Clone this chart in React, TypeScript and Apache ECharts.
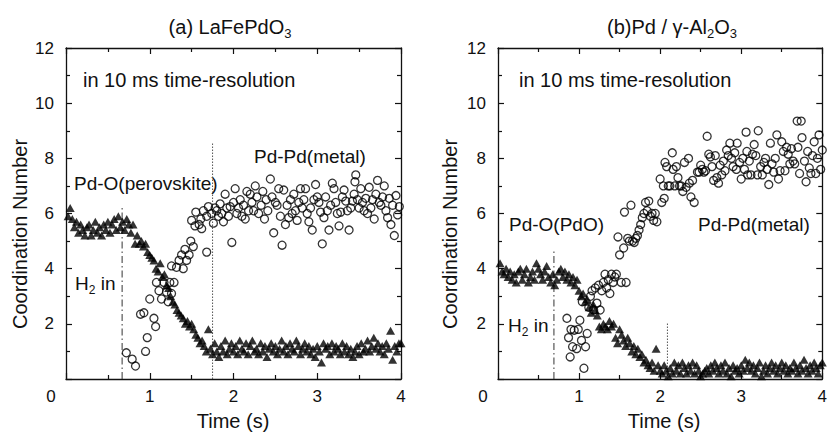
import React, { useEffect, useRef } from "react";
import * as echarts from "echarts";

// ---------- data ----------
const xTicks = [0, 1, 2, 3, 4];
const yTicks = [0, 2, 4, 6, 8, 10, 12];

// (a) LaFePdO3 : Pd-O (triangles) [t, CN]
const pdoA: number[][] = [
  [0.025, 5.9], [0.05, 6.2], [0.075, 5.8], [0.1, 5.5], [0.125, 5.7], [0.15, 5.3], [0.175, 5.6], [0.2, 5.4],
  [0.225, 5.2], [0.25, 5.5], [0.275, 5.6], [0.3, 5.2], [0.325, 5.4], [0.35, 5.7], [0.375, 5.3], [0.4, 5.5],
  [0.425, 5.2], [0.45, 5.6], [0.475, 5.4], [0.5, 5.7], [0.525, 5.3], [0.55, 5.6], [0.575, 5.8], [0.6, 5.4],
  [0.625, 5.9], [0.65, 5.5], [0.675, 5.7], [0.7, 5.4], [0.725, 5.8], [0.75, 5.6], [0.775, 5.3], [0.8, 5.6],
  [0.825, 4.9], [0.85, 5.2], [0.875, 4.9], [0.9, 5.0], [0.925, 4.8], [0.95, 4.9], [0.975, 4.6], [1.0, 4.5],
  [1.025, 4.4], [1.05, 4.3], [1.075, 4.0], [1.1, 3.9], [1.125, 4.2], [1.15, 3.7], [1.175, 3.8], [1.2, 3.4],
  [1.225, 3.3], [1.25, 3.0], [1.275, 2.8], [1.3, 2.7], [1.325, 2.5], [1.35, 2.4], [1.375, 2.3], [1.4, 2.2],
  [1.425, 2.0], [1.45, 2.1], [1.475, 1.9], [1.5, 2.0], [1.525, 1.8], [1.55, 1.6], [1.575, 1.5], [1.6, 1.3],
  [1.625, 1.4], [1.65, 1.2], [1.675, 1.0], [1.7, 1.8], [1.725, 1.1], [1.75, 0.9], [1.775, 1.3], [1.8, 1.0],
  [1.825, 0.8], [1.85, 1.2], [1.875, 1.0], [1.9, 1.4], [1.925, 0.9], [1.95, 1.1], [1.975, 1.3], [2.0, 1.0],
  [2.025, 1.2], [2.05, 0.9], [2.075, 1.4], [2.1, 1.1], [2.125, 1.0], [2.15, 1.3], [2.175, 0.9], [2.2, 1.2],
  [2.225, 1.4], [2.25, 1.0], [2.275, 1.1], [2.3, 0.9], [2.325, 1.3], [2.35, 1.0], [2.375, 1.2], [2.4, 0.8],
  [2.425, 1.1], [2.45, 1.3], [2.475, 1.0], [2.5, 1.2], [2.525, 0.9], [2.55, 1.1], [2.575, 1.4], [2.6, 1.0],
  [2.625, 1.2], [2.65, 0.9], [2.675, 1.3], [2.7, 1.1], [2.725, 1.0], [2.75, 1.4], [2.775, 1.2], [2.8, 0.9],
  [2.825, 1.1], [2.85, 1.3], [2.875, 1.0], [2.9, 1.2], [2.925, 0.9], [2.95, 1.1], [2.975, 0.8], [3.0, 1.2],
  [3.025, 1.0], [3.05, 0.6], [3.075, 1.3], [3.1, 1.1], [3.125, 1.2], [3.15, 0.9], [3.175, 1.3], [3.2, 1.0],
  [3.225, 1.2], [3.25, 1.1], [3.275, 0.9], [3.3, 1.3], [3.325, 1.0], [3.35, 1.2], [3.375, 0.9], [3.4, 1.1],
  [3.425, 0.8], [3.45, 1.0], [3.475, 1.2], [3.5, 0.9], [3.525, 1.3], [3.55, 1.0], [3.575, 1.1], [3.6, 1.4],
  [3.625, 1.0], [3.65, 1.2], [3.675, 1.5], [3.7, 1.1], [3.725, 1.3], [3.75, 1.0], [3.775, 1.2], [3.8, 0.9],
  [3.825, 1.3], [3.85, 1.1], [3.875, 1.75], [3.9, 0.7], [3.925, 1.2], [3.95, 1.0], [3.975, 1.3], [4.0, 1.3],
];

// (a) LaFePdO3 : Pd-Pd (circles)
const pdpdA: number[][] = [
  [0.72, 0.95], [0.79, 0.72], [0.83, 0.47], [0.89, 2.35], [0.93, 2.4], [0.95, 1.0], [0.97, 1.5], [1.0, 2.9],
  [1.05, 2.2], [1.07, 1.9], [1.08, 3.5], [1.11, 3.2], [1.14, 2.9], [1.17, 3.5], [1.2, 3.15], [1.22, 2.8],
  [1.24, 3.5], [1.26, 3.1], [1.26, 4.1], [1.29, 3.5], [1.32, 4.05], [1.35, 4.3], [1.38, 4.5], [1.4, 4.0],
  [1.42, 4.7], [1.44, 4.3], [1.47, 4.5], [1.49, 5.0], [1.5, 5.75], [1.52, 4.8], [1.54, 5.55], [1.55, 6.05],
  [1.59, 5.6], [1.61, 5.8], [1.62, 5.45], [1.64, 6.1], [1.68, 4.6], [1.68, 5.9], [1.7, 6.25], [1.74, 6.0],
  [1.76, 5.65], [1.78, 6.2], [1.8, 6.1], [1.82, 5.9], [1.84, 6.35], [1.86, 6.0], [1.88, 5.7], [1.9, 6.7],
  [1.92, 6.2], [1.94, 5.9], [1.96, 6.25], [1.98, 4.95], [2.0, 6.4], [2.02, 6.9], [2.04, 6.0], [2.06, 6.2],
  [2.08, 6.5], [2.1, 5.9], [2.12, 6.3], [2.14, 5.8], [2.16, 6.8], [2.18, 6.1], [2.2, 6.7], [2.22, 6.4],
  [2.24, 6.1], [2.26, 7.0], [2.28, 6.6], [2.3, 6.0], [2.33, 6.3], [2.35, 6.8], [2.37, 5.8], [2.39, 6.5],
  [2.41, 6.1], [2.44, 7.25], [2.46, 6.6], [2.48, 5.3], [2.5, 6.4], [2.52, 6.3], [2.54, 6.9], [2.56, 5.9],
  [2.58, 4.85], [2.6, 6.85], [2.62, 5.6], [2.64, 6.3], [2.66, 5.85], [2.68, 6.5], [2.7, 6.0], [2.72, 6.7],
  [2.74, 6.1], [2.76, 5.75], [2.78, 6.4], [2.8, 6.9], [2.82, 6.2], [2.84, 6.5], [2.86, 6.9], [2.88, 6.0],
  [2.9, 5.7], [2.92, 6.2], [2.94, 5.4], [2.96, 6.5], [2.98, 7.05], [3.0, 6.6], [3.02, 6.4], [3.04, 6.05],
  [3.06, 4.9], [3.08, 5.85], [3.1, 6.6], [3.12, 6.1], [3.14, 5.4], [3.16, 6.3], [3.18, 7.1], [3.2, 6.9],
  [3.22, 6.4], [3.24, 6.0], [3.26, 5.55], [3.28, 6.05], [3.3, 6.6], [3.32, 6.85], [3.34, 6.45], [3.36, 6.1],
  [3.38, 5.4], [3.4, 6.2], [3.42, 6.45], [3.44, 6.7], [3.45, 7.15], [3.46, 7.4], [3.48, 6.5], [3.5, 6.2],
  [3.52, 6.9], [3.54, 6.4], [3.56, 6.1], [3.58, 6.55], [3.6, 6.0], [3.62, 6.95], [3.64, 6.2], [3.66, 6.5],
  [3.68, 5.8], [3.7, 6.7], [3.72, 7.2], [3.74, 6.4], [3.76, 6.3], [3.78, 6.6], [3.8, 7.0], [3.82, 6.1],
  [3.84, 5.85], [3.86, 6.55], [3.88, 5.6], [3.9, 6.3], [3.92, 5.2], [3.94, 6.65], [3.96, 5.95], [3.98, 6.25],
];

// (b) Pd/γ-Al2O3 : Pd-O (triangles)
const pdoB: number[][] = [
  [0.025, 4.2], [0.05, 3.9], [0.075, 3.8], [0.1, 4.0], [0.125, 3.7], [0.15, 3.9], [0.175, 3.6], [0.2, 3.8],
  [0.225, 3.5], [0.25, 3.9], [0.275, 4.0], [0.3, 3.6], [0.325, 3.8], [0.35, 4.0], [0.375, 3.5], [0.4, 3.7],
  [0.425, 3.9], [0.45, 3.6], [0.475, 4.2], [0.5, 4.0], [0.525, 3.8], [0.55, 3.6], [0.575, 3.9], [0.6, 4.1],
  [0.625, 3.7], [0.65, 3.5], [0.675, 3.8], [0.7, 3.4], [0.725, 3.6], [0.75, 3.9], [0.775, 4.0], [0.8, 3.7],
  [0.825, 3.9], [0.85, 3.6], [0.875, 3.8], [0.9, 3.5], [0.925, 3.7], [0.95, 3.4], [0.975, 3.6], [1.0, 3.2],
  [1.025, 3.0], [1.05, 3.1], [1.075, 2.8], [1.1, 2.9], [1.125, 2.6], [1.15, 2.4], [1.175, 2.7], [1.2, 2.5],
  [1.225, 2.3], [1.25, 1.9], [1.275, 1.8], [1.3, 2.0], [1.325, 1.9], [1.35, 1.8], [1.375, 2.1], [1.4, 1.9],
  [1.425, 2.0], [1.45, 1.5], [1.475, 1.3], [1.5, 1.8], [1.525, 1.6], [1.55, 1.4], [1.575, 1.2], [1.6, 1.5],
  [1.625, 1.3], [1.65, 1.0], [1.675, 1.2], [1.7, 0.9], [1.725, 1.1], [1.75, 0.8], [1.775, 0.9], [1.8, 0.6],
  [1.825, 0.7], [1.85, 0.5], [1.875, 0.4], [1.9, 0.6], [1.925, 0.3], [1.95, 1.1], [1.975, 0.5], [2.0, 0.3],
  [2.025, 0.2], [2.05, 0.5], [2.075, 0.3], [2.1, 0.1], [2.125, 0.4], [2.15, 0.2], [2.175, 0.6], [2.2, 0.3],
  [2.225, 0.5], [2.25, 0.2], [2.275, 0.6], [2.3, 0.4], [2.325, 0.2], [2.35, 0.5], [2.375, 0.3], [2.4, 0.6],
  [2.425, 0.2], [2.45, 0.5], [2.475, 0.3], [2.5, 0.1], [2.525, 0.2], [2.55, 0.3], [2.575, 0.4], [2.6, 0.2],
  [2.625, 0.5], [2.65, 0.3], [2.675, 0.6], [2.7, 0.4], [2.725, 0.2], [2.75, 0.5], [2.775, 0.3], [2.8, 0.6],
  [2.825, 0.2], [2.85, 0.4], [2.875, 0.1], [2.9, 0.5], [2.925, 0.3], [2.95, 0.4], [2.975, 0.2], [3.0, 0.5],
  [3.025, 0.3], [3.05, 0.7], [3.075, 0.4], [3.1, 0.6], [3.125, 0.3], [3.15, 0.5], [3.175, 0.2], [3.2, 0.4],
  [3.225, 0.6], [3.25, 0.1], [3.275, 0.3], [3.3, 0.5], [3.325, 0.2], [3.35, 0.4], [3.375, 0.6], [3.4, 0.3],
  [3.425, 0.5], [3.45, 0.2], [3.475, 0.4], [3.5, 0.6], [3.525, 0.3], [3.55, 0.5], [3.575, 0.2], [3.6, 0.4],
  [3.625, 0.3], [3.65, 0.6], [3.675, 0.4], [3.7, 0.2], [3.725, 0.5], [3.75, 0.3], [3.775, 0.7], [3.8, 0.4],
  [3.825, 0.2], [3.85, 0.5], [3.875, 0.3], [3.9, 0.6], [3.925, 0.4], [3.95, 0.2], [3.975, 0.5], [4.0, 0.6],
];

// (b) Pd/γ-Al2O3 : Pd-Pd (circles)
const pdpdB: number[][] = [
  [0.85, 2.2], [0.87, 1.5], [0.89, 0.8], [0.9, 1.8], [0.92, 1.17], [0.94, 1.77], [0.97, 1.1], [0.99, 1.8],
  [1.01, 2.13], [1.03, 1.4], [1.04, 2.8], [1.06, 0.39], [1.08, 1.17], [1.1, 1.65], [1.12, 2.6], [1.14, 3.0],
  [1.16, 3.2], [1.18, 2.5], [1.2, 3.3], [1.22, 2.75], [1.24, 3.4], [1.26, 2.5], [1.28, 3.2], [1.3, 3.5],
  [1.32, 3.8], [1.34, 3.3], [1.36, 3.6], [1.38, 3.1], [1.4, 3.8], [1.42, 3.5], [1.44, 3.7], [1.46, 3.8],
  [1.48, 5.15], [1.5, 4.5], [1.52, 3.5], [1.55, 4.75], [1.56, 6.05], [1.58, 3.5], [1.6, 5.1], [1.62, 5.0],
  [1.64, 6.3], [1.66, 5.0], [1.68, 4.95], [1.7, 5.1], [1.72, 5.2], [1.74, 5.4], [1.76, 5.6], [1.78, 5.85],
  [1.8, 6.0], [1.82, 6.4], [1.84, 6.1], [1.86, 6.45], [1.88, 5.9], [1.9, 6.0], [1.92, 5.75], [1.94, 6.0],
  [1.96, 5.7], [2.0, 7.25], [2.02, 6.4], [2.04, 7.0], [2.05, 6.55], [2.06, 7.85], [2.08, 7.7], [2.1, 7.0],
  [2.12, 7.0], [2.15, 8.2], [2.16, 7.6], [2.18, 7.0], [2.2, 7.7], [2.22, 7.3], [2.24, 7.0], [2.26, 7.0],
  [2.28, 6.8], [2.3, 7.85], [2.32, 6.95], [2.35, 8.0], [2.36, 7.1], [2.38, 6.6], [2.4, 7.2], [2.42, 6.4],
  [2.46, 7.5], [2.48, 7.5], [2.5, 7.75], [2.52, 7.6], [2.54, 7.5], [2.56, 7.55], [2.58, 8.8], [2.6, 8.15],
  [2.62, 8.05], [2.64, 7.7], [2.66, 7.2], [2.68, 8.1], [2.7, 7.3], [2.72, 7.1], [2.74, 7.75], [2.76, 7.4],
  [2.78, 7.9], [2.8, 7.55], [2.82, 8.3], [2.84, 8.1], [2.86, 8.55], [2.88, 8.0], [2.9, 7.7], [2.92, 8.2],
  [2.94, 7.6], [2.95, 8.55], [2.98, 7.85], [3.0, 7.25], [3.02, 8.0], [3.04, 7.6], [3.06, 8.95], [3.07, 8.25],
  [3.08, 7.4], [3.1, 7.9], [3.12, 7.4], [3.14, 8.15], [3.16, 8.5], [3.18, 8.1], [3.2, 7.4], [3.21, 9.0],
  [3.24, 7.7], [3.26, 7.4], [3.28, 7.85], [3.3, 8.0], [3.32, 7.6], [3.34, 7.05], [3.36, 8.55], [3.38, 7.8],
  [3.4, 7.5], [3.42, 8.0], [3.44, 8.85], [3.46, 7.25], [3.48, 7.55], [3.5, 8.6], [3.52, 8.25], [3.54, 7.55],
  [3.56, 8.4], [3.58, 8.15], [3.6, 7.8], [3.62, 8.35], [3.64, 7.9], [3.66, 7.8], [3.69, 9.35], [3.7, 8.4],
  [3.72, 7.45], [3.74, 9.35], [3.75, 8.75], [3.78, 7.9], [3.8, 7.15], [3.82, 8.25], [3.84, 7.65], [3.86, 7.45],
  [3.88, 8.1], [3.9, 8.6], [3.92, 7.45], [3.94, 8.0], [3.96, 8.85], [3.98, 7.6], [4.0, 8.3],
];

// vertical guide lines: [time, top CN]
const h2InA = [0.67, 6.3];
const endA = [1.75, 8.55];
const h2InB = [0.69, 4.7];
const endB = [2.09, 2.06];

const FONT = '"Liberation Sans", Arial, Helvetica, sans-serif';
const INK = "#111";

function xAxes(grid: number) {
  const common = {
    type: "value",
    gridIndex: grid,
    min: xTicks[0],
    max: xTicks[xTicks.length - 1],
    interval: 1,
    splitLine: { show: false },
    axisLine: { show: true, onZero: false, lineStyle: { color: INK, width: 1.3 } },
    axisTick: { show: true, inside: true, length: 6, lineStyle: { color: INK, width: 1.2 } },
    minorTick: { show: true, splitNumber: 2, length: 4, lineStyle: { color: INK, width: 1.2 } },
  };
  return [
    {
      ...common,
      position: "bottom",
      axisLabel: {
        show: true,
        margin: 9,
        fontSize: 17,
        fontFamily: FONT,
        color: INK,
        formatter: (v: number) => (v === 0 ? "{z|0}" : String(v)),
        rich: { z: { fontSize: 17, fontFamily: FONT, color: INK, padding: [0, 30, 0, 0] } },
      },
    },
    { ...common, position: "top", axisLabel: { show: false } },
  ];
}

function yAxes(grid: number) {
  const common = {
    type: "value",
    gridIndex: grid,
    min: yTicks[0],
    max: yTicks[yTicks.length - 1],
    interval: 2,
    splitLine: { show: false },
    axisLine: { show: true, onZero: false, lineStyle: { color: INK, width: 1.3 } },
    axisTick: { show: true, inside: true, length: 6, lineStyle: { color: INK, width: 1.2 } },
    minorTick: { show: true, splitNumber: 2, length: 4, lineStyle: { color: INK, width: 1.2 } },
  };
  return [
    {
      ...common,
      position: "left",
      axisLabel: {
        show: true,
        margin: 12,
        fontSize: 17,
        fontFamily: FONT,
        color: INK,
        formatter: (v: number) => (v === 0 ? "" : String(v)),
      },
    },
    { ...common, position: "right", axisLabel: { show: false } },
  ];
}

function seriesFor(axisX: number, axisY: number, tri: number[][], circ: number[][], l1: number[], l2: number[]) {
  return [
    {
      type: "line",
      xAxisIndex: axisX,
      yAxisIndex: axisY,
      data: [[l1[0], 0], [l1[0], l1[1]]],
      showSymbol: false,
      symbol: "none",
      lineStyle: { color: "#333", width: 1, type: [7, 3, 1.5, 3] },
      z: 1,
    },
    {
      type: "line",
      xAxisIndex: axisX,
      yAxisIndex: axisY,
      data: [[l2[0], 0], [l2[0], l2[1]]],
      showSymbol: false,
      symbol: "none",
      lineStyle: { color: "#555", width: 1, type: [1.5, 1.5] },
      z: 1,
    },
    {
      type: "scatter",
      xAxisIndex: axisX,
      yAxisIndex: axisY,
      data: tri,
      symbol: "triangle",
      symbolSize: [9, 8],
      itemStyle: { color: "#000" },
      z: 2,
    },
    {
      type: "scatter",
      xAxisIndex: axisX,
      yAxisIndex: axisY,
      data: circ,
      symbol: "circle",
      symbolSize: 8,
      itemStyle: { color: "rgba(0,0,0,0)", borderColor: "#000", borderWidth: 1.3 },
      z: 3,
    },
  ];
}

function txt(x: number, y: number, text: string, size: number, rich?: any, align = "left") {
  return {
    type: "text",
    x,
    y,
    silent: true,
    style: {
      text,
      fontSize: size,
      fontFamily: FONT,
      fill: INK,
      align,
      verticalAlign: "middle",
      rich,
    },
  };
}

const subRich = (size: number) => ({
  n: { fontSize: size, fontFamily: FONT, fill: INK, lineHeight: size + 4, verticalAlign: "bottom" },
  s: { fontSize: Math.round(size * 0.65), fontFamily: FONT, fill: INK, lineHeight: size + 4, verticalAlign: "bottom", padding: [0, 0, -3, 0] },
});

export default function App() {
  const ref = useRef<HTMLDivElement>(null);
  useEffect(() => {
    if (!ref.current) return;
    const chart = echarts.init(ref.current, undefined, { renderer: "svg" });
    const option: any = {
      animation: false,
      backgroundColor: "#fff",
      grid: [
        { left: 66, top: 48, width: 335, height: 331 },
        { left: 498, top: 48, width: 333, height: 331 },
      ],
      xAxis: [...xAxes(0), ...xAxes(1)],
      yAxis: [...yAxes(0), ...yAxes(1)],
      series: [...seriesFor(0, 0, pdoA, pdpdA, h2InA, endA), ...seriesFor(2, 2, pdoB, pdpdB, h2InB, endB)],
      graphic: [
        // titles
        txt(230, 25, "{n|(a) LaFePdO}{s|3}", 20, subRich(20), "center"),
        txt(672, 25, "{n|(b)Pd / γ-Al}{s|2}{n|O}{s|3}", 20, subRich(20), "center"),
        // axis names
        txt(233, 421, "Time (s)", 20, undefined, "center"),
        txt(664, 421, "Time (s)", 20, undefined, "center"),
        { ...txt(20, 234, "Coordination Number", 20, undefined, "center"), rotation: Math.PI / 2 },
        { ...txt(450, 234, "Coordination Number", 20, undefined, "center"), rotation: Math.PI / 2 },
        // annotations (a)
        txt(83, 80, "in 10 ms time-resolution", 20),
        txt(254, 156, "Pd-Pd(metal)", 19),
        txt(74, 183, "Pd-O(perovskite)", 19),
        txt(75, 281, "{n|H}{s|2}{n| in}", 19, subRich(19)),
        // annotations (b)
        txt(519, 80, "in 10 ms time-resolution", 20),
        txt(509, 224, "Pd-O(PdO)", 19),
        txt(698, 224, "Pd-Pd(metal)", 19),
        txt(508, 323, "{n|H}{s|2}{n| in}", 19, subRich(19)),
      ],
    };
    chart.setOption(option);
    return () => chart.dispose();
  }, []);
  return (
    <div
      ref={ref}
      style={{ position: "fixed", left: 0, top: 0, width: 830, height: 434, background: "#fff" }}
    />
  );
}
